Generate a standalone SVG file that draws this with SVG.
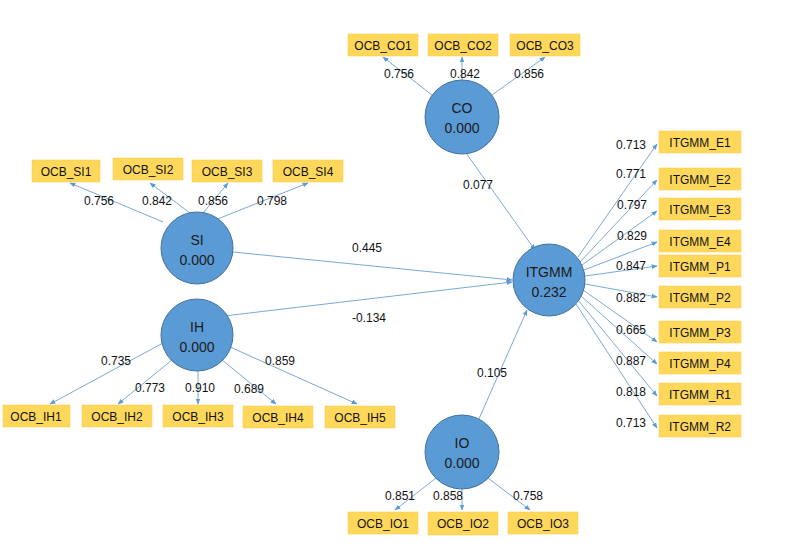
<svg xmlns="http://www.w3.org/2000/svg" width="790" height="547" viewBox="0 0 790 547">
<defs><marker id="a" viewBox="0 0 10 10" refX="9" refY="5" markerWidth="6" markerHeight="6" orient="auto"><path d="M0,1L10,5L0,9z" fill="#5b9bd5"/></marker></defs>
<style>
.b{fill:#ffd85b;stroke:#f5c842;stroke-width:0.5}
.c{fill:#5b9bd5;stroke:#41719c;stroke-width:1}
text{font-family:"Liberation Sans",Arial,sans-serif;font-size:12px;fill:#111}
.t{text-anchor:middle}
.n{font-size:14px;text-anchor:middle;fill:#1a1a1a}
.l{stroke:#7aa9d6;stroke-width:1;fill:none;marker-end:url(#a)}
</style>
<rect width="790" height="547" fill="#fff"/>
<g id="connectors">
<line class="l" x1="432" y1="95" x2="383" y2="57"/>
<line class="l" x1="462" y1="80" x2="462" y2="57"/>
<line class="l" x1="492" y1="95" x2="545" y2="57"/>
<line class="l" x1="466" y1="153" x2="535" y2="250"/>
<line class="l" x1="233" y1="252" x2="512" y2="280"/>
<line class="l" x1="224" y1="316" x2="512" y2="282"/>
<line class="l" x1="478" y1="421" x2="527" y2="310"/>
<line class="l" x1="163" y1="222" x2="70" y2="183"/>
<line class="l" x1="190" y1="213" x2="150" y2="183"/>
<line class="l" x1="203" y1="213" x2="228" y2="183"/>
<line class="l" x1="215" y1="220" x2="308" y2="183"/>
<line class="l" x1="163" y1="343" x2="50" y2="404"/>
<line class="l" x1="172" y1="360" x2="118" y2="404"/>
<line class="l" x1="198" y1="371" x2="198" y2="404"/>
<line class="l" x1="222" y1="360" x2="276" y2="404"/>
<line class="l" x1="230" y1="347" x2="357" y2="404"/>
<line class="l" x1="578" y1="257" x2="657" y2="144"/>
<line class="l" x1="580" y1="262" x2="657" y2="180"/>
<line class="l" x1="582" y1="265" x2="657" y2="211"/>
<line class="l" x1="584" y1="270" x2="657" y2="242"/>
<line class="l" x1="585" y1="276" x2="657" y2="266"/>
<line class="l" x1="585" y1="284" x2="657" y2="297"/>
<line class="l" x1="583" y1="290" x2="657" y2="342"/>
<line class="l" x1="580" y1="295" x2="657" y2="364"/>
<line class="l" x1="578" y1="300" x2="657" y2="396"/>
<line class="l" x1="576" y1="304" x2="657" y2="428"/>
<line class="l" x1="436" y1="478" x2="395" y2="510"/>
<line class="l" x1="462" y1="489" x2="462" y2="510"/>
<line class="l" x1="488" y1="478" x2="530" y2="510"/>
</g>
<g id="labels">
<text x="384" y="78">0.756</text><text x="450" y="78">0.842</text><text x="514" y="78">0.856</text>
<text x="463" y="189">0.077</text>
<text x="352" y="252">0.445</text>
<text x="352" y="322">-0.134</text>
<text x="477" y="377">0.105</text>
<text x="84" y="205">0.756</text><text x="142" y="205">0.842</text><text x="198" y="205">0.856</text><text x="257" y="205">0.798</text>
<text x="101" y="365">0.735</text><text x="135" y="392">0.773</text><text x="185" y="392">0.910</text><text x="234" y="393">0.689</text><text x="265" y="365">0.859</text>
<text x="616" y="149">0.713</text><text x="616" y="178">0.771</text><text x="617" y="209">0.797</text><text x="617" y="240">0.829</text><text x="616" y="270">0.847</text><text x="616" y="302">0.882</text><text x="616" y="334">0.665</text><text x="616" y="365">0.887</text><text x="616" y="396">0.818</text><text x="616" y="427">0.713</text>
<text x="385" y="500">0.851</text><text x="433" y="500">0.858</text><text x="513" y="500">0.758</text>
</g>
<g id="CO"><circle class="c" cx="462" cy="117" r="37"/><text class="n" x="462" y="113">CO</text><text class="n" x="462" y="133">0.000</text></g>
<g id="SI"><circle class="c" cx="197" cy="248" r="36"/><text class="n" x="197" y="245">SI</text><text class="n" x="197" y="265">0.000</text></g>
<g id="IH"><circle class="c" cx="197" cy="335" r="36"/><text class="n" x="197" y="332">IH</text><text class="n" x="197" y="352">0.000</text></g>
<g id="ITGMM"><circle class="c" cx="549" cy="280" r="36"/><text class="n" x="549" y="277">ITGMM</text><text class="n" x="549" y="297">0.232</text></g>
<g id="IO"><circle class="c" cx="462" cy="452" r="37"/><text class="n" x="462" y="448">IO</text><text class="n" x="462" y="468">0.000</text></g>
<g id="OCB_CO1"><rect class="b" x="348" y="34" width="70" height="22"/><text class="t" x="383" y="50">OCB_CO1</text></g>
<g id="OCB_CO2"><rect class="b" x="428" y="34" width="70" height="22"/><text class="t" x="463" y="50">OCB_CO2</text></g>
<g id="OCB_CO3"><rect class="b" x="510" y="34" width="70" height="22"/><text class="t" x="545" y="50">OCB_CO3</text></g>
<g id="OCB_SI1"><rect class="b" x="32" y="160" width="68" height="22"/><text class="t" x="66" y="176">OCB_SI1</text></g>
<g id="OCB_SI2"><rect class="b" x="113" y="158" width="70" height="22"/><text class="t" x="148" y="174">OCB_SI2</text></g>
<g id="OCB_SI3"><rect class="b" x="192" y="160" width="70" height="22"/><text class="t" x="227" y="176">OCB_SI3</text></g>
<g id="OCB_SI4"><rect class="b" x="273" y="160" width="70" height="22"/><text class="t" x="308" y="176">OCB_SI4</text></g>
<g id="OCB_IH1"><rect class="b" x="3" y="405" width="67" height="22"/><text class="t" x="36" y="421">OCB_IH1</text></g>
<g id="OCB_IH2"><rect class="b" x="82" y="405" width="70" height="22"/><text class="t" x="117" y="421">OCB_IH2</text></g>
<g id="OCB_IH3"><rect class="b" x="163" y="405" width="70" height="22"/><text class="t" x="198" y="421">OCB_IH3</text></g>
<g id="OCB_IH4"><rect class="b" x="243" y="406" width="70" height="22"/><text class="t" x="278" y="422">OCB_IH4</text></g>
<g id="OCB_IH5"><rect class="b" x="325" y="406" width="70" height="22"/><text class="t" x="360" y="422">OCB_IH5</text></g>
<g id="OCB_IO1"><rect class="b" x="348" y="512" width="70" height="22"/><text class="t" x="383" y="528">OCB_IO1</text></g>
<g id="OCB_IO2"><rect class="b" x="428" y="512" width="70" height="23"/><text class="t" x="463" y="528">OCB_IO2</text></g>
<g id="OCB_IO3"><rect class="b" x="508" y="512" width="70" height="22"/><text class="t" x="543" y="528">OCB_IO3</text></g>
<g id="ITGMM_E1"><rect class="b" x="659" y="131" width="82" height="22"/><text class="t" x="700" y="147">ITGMM_E1</text></g>
<g id="ITGMM_E2"><rect class="b" x="659" y="168" width="82" height="22"/><text class="t" x="700" y="184">ITGMM_E2</text></g>
<g id="ITGMM_E3"><rect class="b" x="659" y="198" width="82" height="22"/><text class="t" x="700" y="214">ITGMM_E3</text></g>
<g id="ITGMM_E4"><rect class="b" x="659" y="230" width="82" height="22"/><text class="t" x="700" y="246">ITGMM_E4</text></g>
<g id="ITGMM_P1"><rect class="b" x="659" y="255" width="82" height="22"/><text class="t" x="700" y="271">ITGMM_P1</text></g>
<g id="ITGMM_P2"><rect class="b" x="659" y="286" width="82" height="22"/><text class="t" x="700" y="302">ITGMM_P2</text></g>
<g id="ITGMM_P3"><rect class="b" x="659" y="321" width="82" height="22"/><text class="t" x="700" y="337">ITGMM_P3</text></g>
<g id="ITGMM_P4"><rect class="b" x="659" y="352" width="82" height="22"/><text class="t" x="700" y="368">ITGMM_P4</text></g>
<g id="ITGMM_R1"><rect class="b" x="659" y="383" width="82" height="22"/><text class="t" x="700" y="399">ITGMM_R1</text></g>
<g id="ITGMM_R2"><rect class="b" x="659" y="415" width="82" height="22"/><text class="t" x="700" y="431">ITGMM_R2</text></g>
</svg>
